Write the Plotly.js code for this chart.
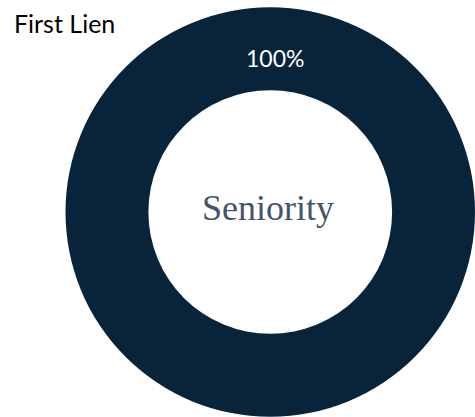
<!DOCTYPE html>
<html>
<head>
<meta charset="utf-8">
<script src="https://cdn.plot.ly/plotly-3.0.1.min.js"></script>
<style>html,body{margin:0;padding:0;background:#fff;}#chart{width:475px;height:417px;}</style>
</head>
<body>
<div id="chart"></div>
<script>
const labels = ["First Lien"];
const values = [100];
const centerLabel = "Seniority";

const total = values.reduce((a, b) => a + b, 0);
const pctText = Math.round(values[0] / total * 100) + "%";

const trace = {
  type: "pie",
  labels: labels,
  values: values,
  hole: 0.595,
  sort: false,
  direction: "clockwise",
  rotation: 180,
  marker: {colors: ["#08243B"], line: {width: 0}},
  textinfo: "none",
  domain: {x: [0.1379, 1], y: [0, 0.983]},
  showlegend: false,
  hoverinfo: "label+percent"
};

const layout = {
  width: 475,
  height: 417,
  margin: {l: 0, r: 0, t: 0, b: 0},
  paper_bgcolor: "#ffffff",
  plot_bgcolor: "#ffffff",
  showlegend: false,
  annotations: [
    {
      text: labels[0],
      xref: "paper", yref: "paper",
      x: 12/475, y: 1 - 23/417,
      xanchor: "left", yanchor: "middle",
      showarrow: false,
      font: {family: "Lato, 'Open Sans', sans-serif", size: 25, color: "#000000"}
    },
    {
      text: pctText,
      xref: "paper", yref: "paper",
      x: 275/475, y: 1 - 58/417,
      xanchor: "center", yanchor: "middle",
      showarrow: false,
      font: {family: "Lato, 'Open Sans', sans-serif", size: 23, color: "#ffffff"}
    },
    {
      text: centerLabel,
      xref: "paper", yref: "paper",
      x: 268/475, y: 1 - 208/417,
      xanchor: "center", yanchor: "middle",
      showarrow: false,
      font: {family: "'Liberation Serif', 'Times New Roman', serif", size: 36, color: "#44546A"}
    }
  ]
};

Plotly.newPlot("chart", [trace], layout, {staticPlot: true, displayModeBar: false});
</script>
</body>
</html>
